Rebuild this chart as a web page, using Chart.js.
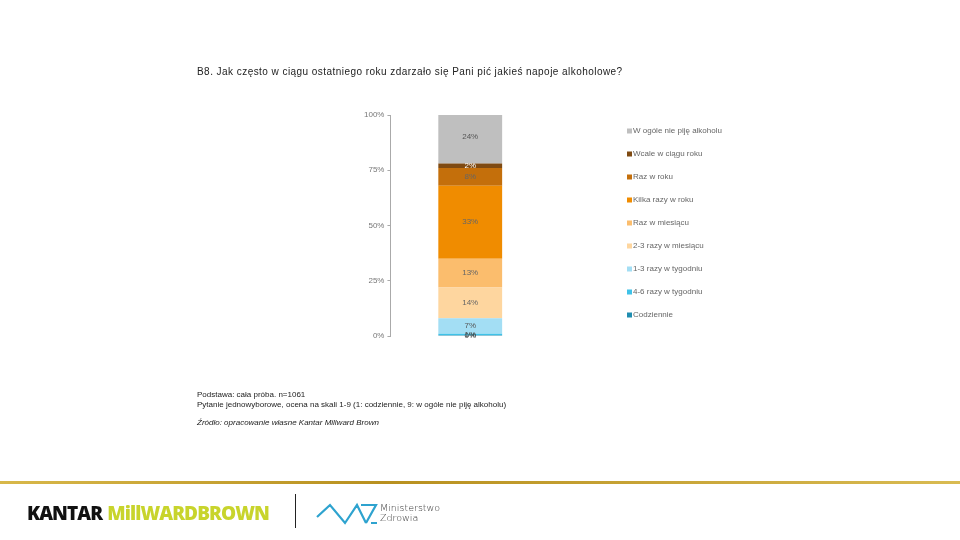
<!DOCTYPE html>
<html>
<head>
<meta charset="utf-8">
<script src="https://cdn.jsdelivr.net/npm/chart.js@4/dist/chart.umd.min.js"></script>
<style>
  html, body { margin: 0; padding: 0; background: #fff; }
  #wrap { position: relative; width: 960px; height: 540px; overflow: hidden; font-family: "Liberation Sans", Arial, sans-serif; }
  #chart { position: absolute; left: 0; top: 0; }
  .txt { position: absolute; white-space: nowrap; color: #222; }
  #title { left: 197px; top: 66px; font-size: 10px; letter-spacing: 0.45px; }
  #note { left: 197px; top: 390px; font-size: 8px; line-height: 10px; }
  #src { left: 197px; top: 418px; font-size: 8px; font-style: italic; }
  #goldline { position: absolute; left: 0; top: 481px; width: 960px; height: 3px;
    background: linear-gradient(90deg, #d8b84a, #b8901f 40%, #d9bb52 100%); }
  #kantar { left: 27px; top: 500px; font-family: "Open Sans", sans-serif; font-weight: 800; font-size: 19px;
    letter-spacing: -0.9px; }
  #kantar .k { color: #111; }
  #kantar .mb { color: #c8d42c; margin-left: 5px; }
  #sep { position: absolute; left: 295px; top: 494px; width: 1px; height: 34px; background: #222; }
  #mz { left: 380px; top: 503px; font-size: 9.5px; line-height: 10px; color: #333; font-family: "DejaVu Sans", sans-serif; font-weight: 300; }
</style>
</head>
<body>
<div id="wrap">
  <canvas id="chart" width="960" height="540"></canvas>
  <div class="txt" id="title">B8. Jak często w ciągu ostatniego roku zdarzało się Pani pić jakieś napoje alkoholowe?</div>
  <div class="txt" id="note">Podstawa: cała próba. n=1061<br>Pytanie jednowyborowe, ocena na skali 1-9 (1: codziennie, 9: w ogóle nie piję alkoholu)</div>
  <div class="txt" id="src">Źródło: opracowanie własne Kantar Millward Brown</div>
  <div id="goldline"></div>
  <div class="txt" id="kantar"><span class="k">KANTAR</span><span class="mb">MillWARDBROWN</span></div>
  <div id="sep"></div>
  <svg style="position:absolute;left:0;top:0" width="960" height="540">
    <path d="M317,517 L330,505 L345,523 L357,505 L366,523 M361,505 L376,505 L366,523 M371,523 L377,523"
      fill="none" stroke="#2ea3cf" stroke-width="2.2" stroke-linejoin="miter"/>
  </svg>
  <div class="txt" id="mz">Ministerstwo<br>Zdrowia</div>
</div>
<script>
// kategorie (od dołu słupka)
const categories = ['Codziennie', '4-6 razy w tygodniu', '1-3 razy w tygodniu', '2-3 razy w miesiącu',
  'Raz w miesiącu', 'Kilka razy w roku', 'Raz w roku', 'Wcale w ciągu roku', 'W ogóle nie piję alkoholu'];
const values = [0.4, 0.6, 7, 14, 13, 33, 8, 2, 24];
const colors = ['#1f8db0', '#3fc2e8', '#a3def4', '#fed69f', '#fbbd6d', '#f08c00', '#c46f0b', '#7f4a12', '#bfbfbf'];
const labelColors = ['#444', '#444', '#555', '#666', '#666', '#666', '#666', '#fff', '#555'];
const tickLabels = ['0%', '25%', '50%', '75%', '100%'];

const datasets = categories.map((c, i) => ({
  label: c,
  data: [values[i]],
  backgroundColor: colors[i],
  borderWidth: 0,
  categoryPercentage: 1,
  barPercentage: 0.4
}));

// etykiety wartości na słupku
const valueLabels = {
  id: 'valueLabels',
  afterDatasetsDraw(chart) {
    const ctx = chart.ctx;
    ctx.save();
    ctx.font = '8px "Liberation Sans", Arial, sans-serif';
    ctx.textAlign = 'center';
    ctx.textBaseline = 'middle';
    chart.data.datasets.forEach((ds, i) => {
      const bar = chart.getDatasetMeta(i).data[0];
      const mid = (bar.y + bar.base) / 2;
      ctx.fillStyle = labelColors[i];
      ctx.fillText(Math.round(ds.data[0]) + '%', bar.x, mid);
    });
    ctx.restore();
  }
};

// legenda po prawej (odwrócona kolejność)
const sideLegend = {
  id: 'sideLegend',
  afterDraw(chart) {
    const ctx = chart.ctx;
    ctx.save();
    ctx.font = '8px "Liberation Sans", Arial, sans-serif';
    ctx.textBaseline = 'middle';
    const n = categories.length;
    for (let k = 0; k < n; k++) {
      const i = n - 1 - k;
      const y = 131 + k * 23;
      ctx.fillStyle = colors[i];
      ctx.fillRect(627, y - 2.5, 5, 5);
      ctx.fillStyle = '#666';
      ctx.fillText(categories[i], 633, y);
    }
    ctx.restore();
  }
};

const ctx = document.getElementById('chart').getContext('2d');
const chart = new Chart(ctx, {
  type: 'bar',
  data: { labels: [''], datasets: datasets },
  options: {
    responsive: false,
    animation: false,
    layout: { padding: { left: 361, right: 410, top: 115, bottom: 204 } },
    plugins: { legend: { display: false }, tooltip: { enabled: false } },
    scales: {
      x: { stacked: true, display: false },
      y: {
        stacked: true,
        min: 0,
        max: 100,
        border: { display: true, color: '#aaa' },
        grid: { drawOnChartArea: false, tickLength: 3, color: '#aaa' },
        ticks: {
          stepSize: 25,
          padding: 3,
          color: '#777',
          font: { size: 8, family: '"Liberation Sans", Arial, sans-serif' },
          callback: (v, idx) => tickLabels[idx]
        }
      }
    }
  },
  plugins: [valueLabels, sideLegend]
});
</script>
</body>
</html>
